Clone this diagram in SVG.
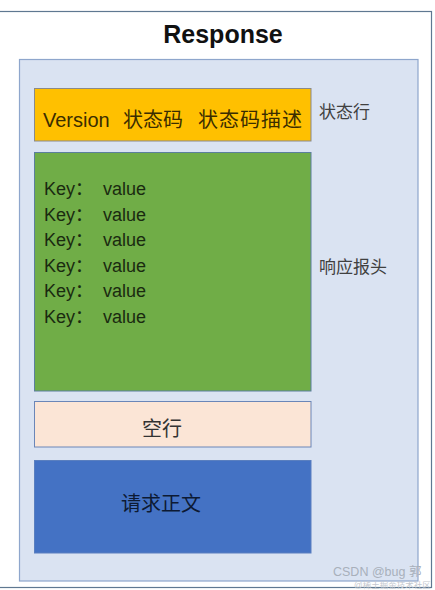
<svg xmlns="http://www.w3.org/2000/svg" width="435" height="590" viewBox="0 0 435 590">
<style>
.t{font-family:"Liberation Sans","Noto Sans CJK SC",sans-serif;}
.box{stroke-width:1;}
.kv{font-size:18px;fill:#1a2a10;}
.lbl{font-size:17px;fill:#404040;}
.st{font-size:20px;fill:#3a2d00;}
</style>
<rect x="0" y="0" width="435" height="590" fill="#ffffff"/>
<g id="frame">
<rect x="-1" y="11.5" width="432.5" height="576" fill="#ffffff" stroke="#5f7891" stroke-width="1.2"/>
<text class="t" x="223" y="43" font-size="25" font-weight="bold" text-anchor="middle" fill="#111">Response</text>
</g>
<g id="container">
<rect x="19.5" y="59.5" width="398.5" height="521.5" fill="#dae3f2" stroke="#8ea6cc" stroke-width="1.2"/>
</g>
<g id="status-line">
<rect class="box" x="34.5" y="88.5" width="276.5" height="52.5" fill="#ffc000" stroke="#8a8a8a"/>
<text class="t st" x="43" y="127">Version</text>
<text class="t st" x="123" y="127">状态码</text>
<text class="t st" x="198" y="127" textLength="104">状态码描述</text>
</g>
<g id="headers">
<rect class="box" x="34.5" y="152.5" width="276.5" height="238.5" fill="#70ad47" stroke="#5b7f9c"/>
<text class="t kv" x="44" y="195">Key：</text><text class="t kv" x="103" y="195">value</text>
<text class="t kv" x="44" y="220.5">Key：</text><text class="t kv" x="103" y="220.5">value</text>
<text class="t kv" x="44" y="246">Key：</text><text class="t kv" x="103" y="246">value</text>
<text class="t kv" x="44" y="271.5">Key：</text><text class="t kv" x="103" y="271.5">value</text>
<text class="t kv" x="44" y="297">Key：</text><text class="t kv" x="103" y="297">value</text>
<text class="t kv" x="44" y="322.5">Key：</text><text class="t kv" x="103" y="322.5">value</text>
</g>
<g id="blank-line">
<rect class="box" x="34.5" y="401.5" width="276.5" height="45.5" fill="#fbe5d6" stroke="#6a86b8"/>
<text class="t" x="162" y="436" font-size="20" text-anchor="middle" fill="#333">空行</text>
</g>
<g id="body">
<rect class="box" x="34.5" y="460.5" width="276.5" height="92.5" fill="#4472c4" stroke="#5a7fbf"/>
<text class="t" x="161" y="511" font-size="20" text-anchor="middle" fill="#0d1a33">请求正文</text>
</g>
<g id="labels">
<text class="t lbl" x="319" y="118">状态行</text>
<text class="t lbl" x="319" y="273">响应报头</text>
</g>
<g id="connectors"></g>
<g id="watermark">
<text class="t" x="333" y="576" font-size="12.5" fill="#a8b0bb">CSDN @bug 郭</text>
<text class="t" x="354" y="588" font-size="8.5" fill="#c4c8cf">@稀土掘金技术社区</text>
</g>
</svg>
